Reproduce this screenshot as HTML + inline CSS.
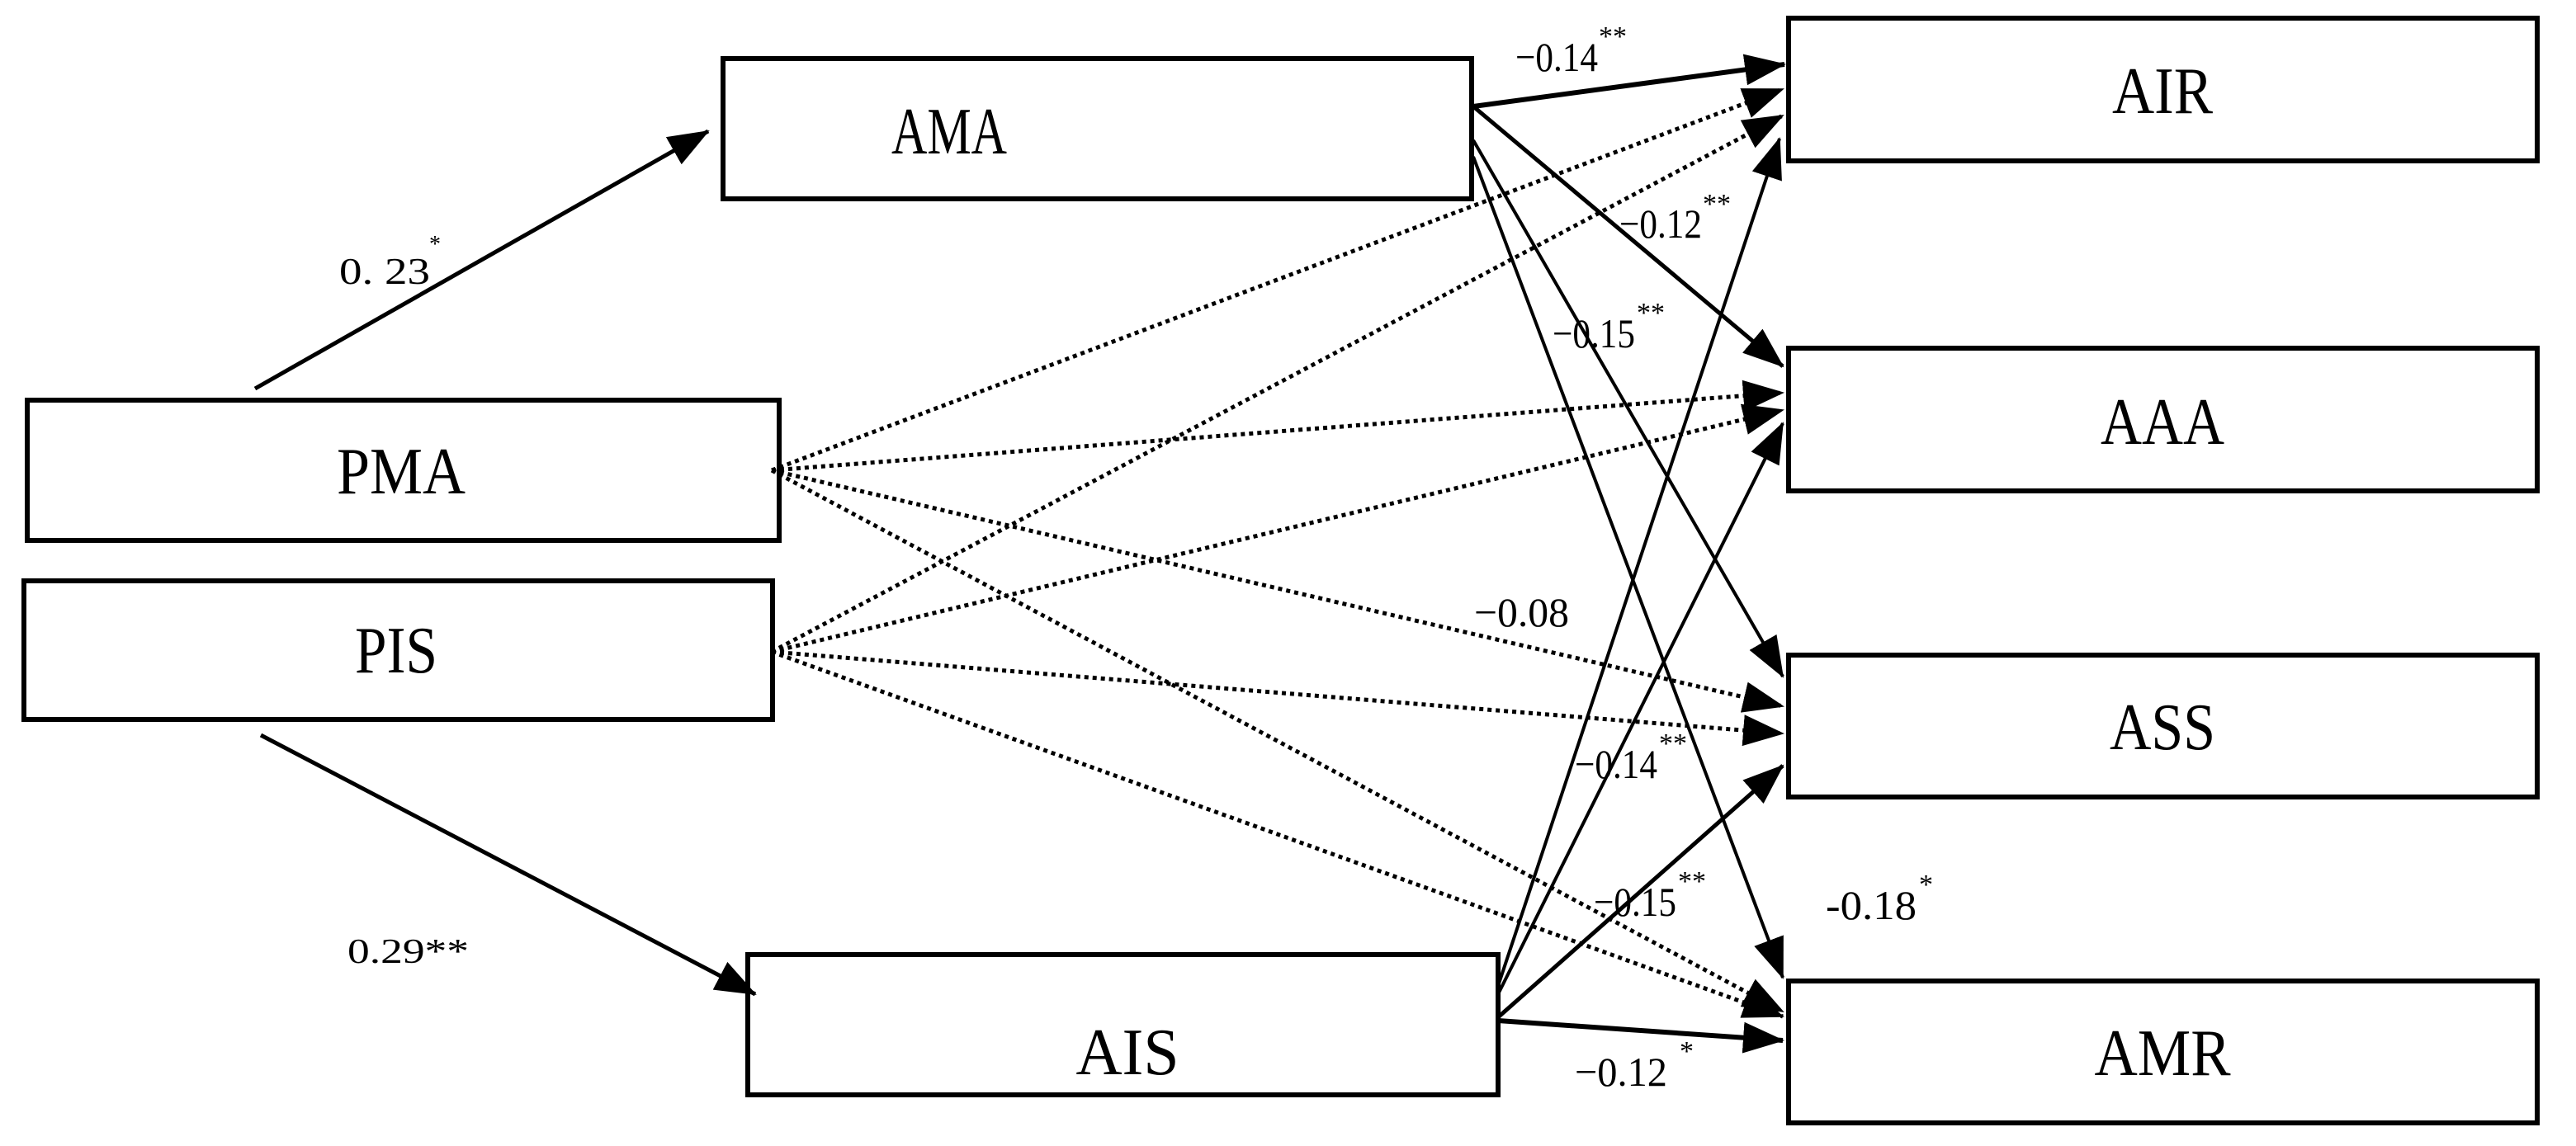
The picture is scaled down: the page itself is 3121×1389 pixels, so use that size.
<!DOCTYPE html>
<html><head><meta charset="utf-8"><style>
html,body{margin:0;padding:0;background:#fff;}
svg{display:block;}
text{font-family:"Liberation Serif",serif;fill:#000;}
</style></head><body>
<svg width="3121" height="1389" viewBox="0 0 3121 1389" xmlns="http://www.w3.org/2000/svg">
<defs>
<marker id="a" markerUnits="userSpaceOnUse" markerWidth="50" markerHeight="38" refX="48" refY="19" orient="auto">
<path d="M0,0 L50,19 L0,38 z" fill="#000"/>
</marker>
</defs>
<g fill="none" stroke="#000" stroke-width="6">
<rect x="33" y="485" width="911" height="170"/>
<rect x="29" y="704" width="907" height="168"/>
<rect x="876" y="71" width="907" height="170"/>
<rect x="906" y="1157" width="909" height="170"/>
<rect x="2167" y="22" width="907" height="173"/>
<rect x="2167" y="422" width="907" height="173"/>
<rect x="2167" y="794" width="907" height="172"/>
<rect x="2167" y="1189" width="907" height="172"/>
</g>
<g stroke="#000" fill="none">
<line x1="309" y1="471" x2="858" y2="159" stroke-width="5" marker-end="url(#a)"/>
<line x1="316" y1="891" x2="915" y2="1205" stroke-width="5" marker-end="url(#a)"/>
<line x1="1785" y1="129" x2="2162" y2="78" stroke-width="6" marker-end="url(#a)"/>
<line x1="1785" y1="129" x2="2160" y2="444" stroke-width="5" marker-end="url(#a)"/>
<line x1="1785" y1="170" x2="2160" y2="820" stroke-width="4" marker-end="url(#a)"/>
<line x1="1785" y1="190" x2="2160" y2="1185" stroke-width="4" marker-end="url(#a)"/>
<line x1="1815" y1="1195" x2="2156" y2="168" stroke-width="4" marker-end="url(#a)"/>
<line x1="1815" y1="1205" x2="2160" y2="513" stroke-width="4" marker-end="url(#a)"/>
<line x1="1815" y1="1233" x2="2160" y2="928" stroke-width="5" marker-end="url(#a)"/>
<line x1="1815" y1="1237" x2="2160" y2="1261" stroke-width="6" marker-end="url(#a)"/>
<g stroke-width="5" stroke-dasharray="5 5">
<line x1="935" y1="570" x2="2160" y2="108" marker-end="url(#a)"/>
<line x1="935" y1="570" x2="2160" y2="476" marker-end="url(#a)"/>
<line x1="935" y1="570" x2="2160" y2="856" marker-end="url(#a)"/>
<line x1="935" y1="570" x2="2160" y2="1226" marker-end="url(#a)"/>
<line x1="935" y1="790" x2="2160" y2="140" marker-end="url(#a)"/>
<line x1="935" y1="790" x2="2160" y2="497" marker-end="url(#a)"/>
<line x1="935" y1="790" x2="2160" y2="889" marker-end="url(#a)"/>
<line x1="935" y1="790" x2="2160" y2="1232" marker-end="url(#a)"/>
</g>
</g>
<g font-size="80" text-anchor="middle">
<text x="486" y="598" textLength="156" lengthAdjust="spacingAndGlyphs">PMA</text>
<text x="480" y="815" textLength="100" lengthAdjust="spacingAndGlyphs">PIS</text>
<text x="1150" y="186" textLength="140" lengthAdjust="spacingAndGlyphs">AMA</text>
<text x="1366" y="1302" textLength="125" lengthAdjust="spacingAndGlyphs">AIS</text>
<text x="2620" y="137" textLength="122" lengthAdjust="spacingAndGlyphs">AIR</text>
<text x="2620" y="538" textLength="150" lengthAdjust="spacingAndGlyphs">AAA</text>
<text x="2620" y="908" textLength="128" lengthAdjust="spacingAndGlyphs">ASS</text>
<text x="2620" y="1303" textLength="165" lengthAdjust="spacingAndGlyphs">AMR</text>
</g>
<g font-size="50">
<text x="411" y="344" font-family="Liberation Mono, monospace" font-size="46" textLength="110" lengthAdjust="spacingAndGlyphs">0. 23</text>
<text x="520" y="305" font-size="28">*</text>
<text x="421" y="1167" font-family="Liberation Sans, sans-serif" font-size="42" textLength="147" lengthAdjust="spacingAndGlyphs">0.29**</text>
<text x="1836" y="86" textLength="100" lengthAdjust="spacingAndGlyphs">−0.14</text><text x="1937" y="55" font-size="34">**</text>
<text x="1962" y="288" textLength="100" lengthAdjust="spacingAndGlyphs">−0.12</text><text x="2063" y="258" font-size="34">**</text>
<text x="1881" y="421" textLength="100" lengthAdjust="spacingAndGlyphs">−0.15</text><text x="1983" y="390" font-size="34">**</text>
<text x="1786" y="759" textLength="115" lengthAdjust="spacingAndGlyphs">−0.08</text>
<text x="1908" y="943" textLength="100" lengthAdjust="spacingAndGlyphs">−0.14</text><text x="2010" y="912" font-size="34">**</text>
<text x="1931" y="1110" textLength="100" lengthAdjust="spacingAndGlyphs">−0.15</text><text x="2033" y="1079" font-size="34">**</text>
<text x="2212" y="1114" textLength="110" lengthAdjust="spacingAndGlyphs">-0.18</text><text x="2325" y="1083" font-size="34">*</text>
<text x="1908" y="1316" textLength="112" lengthAdjust="spacingAndGlyphs">−0.12</text><text x="2035" y="1285" font-size="34">*</text>
</g>
</svg>
</body></html>
